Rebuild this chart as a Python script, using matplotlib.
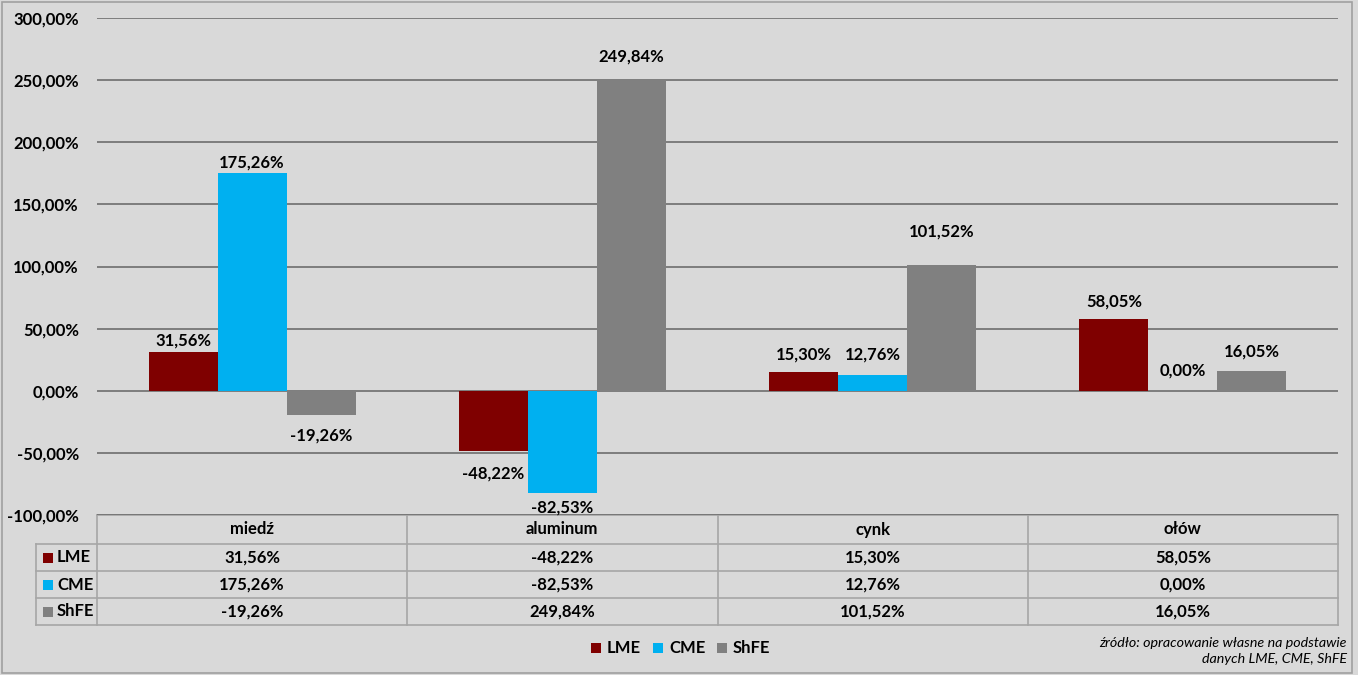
import matplotlib
matplotlib.use("Agg")
import matplotlib.pyplot as plt
from matplotlib.patches import Rectangle
import numpy as np

# ---- data ----
categories = ["miedź", "aluminum", "cynk", "ołów"]
series_names = ["LME", "CME", "ShFE"]
lme = [31.56, -48.22, 15.30, 58.05]
cme = [175.26, -82.53, 12.76, 0.00]
shfe = [-19.26, 249.84, 101.52, 16.05]
yticks = [-100, -50, 0, 50, 100, 150, 200, 250, 300]
source_text = "źródło: opracowanie własne na podstawie\ndanych LME, CME, ShFE"

# ---- style ----
colors = ["#7F0000", "#00B0F0", "#808080"]
bg = "#D9D9D9"
grid_c = "#6E6E6E"
table_c = "#A6A6A6"
FONT = "Lato"
FS = 12
# label vertical offsets in pixels (style only)
label_off = [[11, -23, 17, 17],
             [10, -14, 20, 20],
             [-21, 24, 33, 19]]

W, H = 1358, 675
DPI = 100
fig = plt.figure(figsize=(W / DPI, H / DPI), dpi=DPI, facecolor=bg)
L, R, T, B = 97, 1338, 18, 515
ax = fig.add_axes([L / W, 1 - B / H, (R - L) / W, (B - T) / H])
ax.patch.set_alpha(0)
ax.set_zorder(5)

def fmt(v):
    return f"{v:.2f}".replace(".", ",") + "%"

x = np.arange(len(categories))
bw = 69 / 310
data = [lme, cme, shfe]
for i, (vals, c) in enumerate(zip(data, colors)):
    ax.bar(x + (i - 1) * bw, vals, width=bw, color=c, zorder=3)

ax.set_xlim(-0.5, len(categories) - 0.5)
ax.set_ylim(min(yticks), max(yticks))
ax.set_yticks(yticks)
ax.set_yticklabels([fmt(v) for v in yticks], fontfamily=FONT, fontweight="bold", fontsize=FS)
ax.tick_params(axis="y", length=0, pad=13)
ax.set_xticks([])
ax.grid(axis="y", color=grid_c, linewidth=1.2, zorder=1)
for s in ax.spines.values():
    s.set_visible(False)

# data labels
px2pt = 72 / DPI
for i, vals in enumerate(data):
    for j, v in enumerate(vals):
        off = label_off[i][j]
        ax.annotate(fmt(v), (x[j] + (i - 1) * bw, v), xytext=(0, off * px2pt),
                    textcoords="offset points", ha="center", va="center",
                    fontfamily=FONT, fontweight="bold", fontsize=FS, zorder=4,
                    annotation_clip=False)

# ---- data table ----
ftrans = fig.transFigure
def fx(px):
    return px / W
def fy(py):
    return 1 - py / H

row_edges = [515, 544, 571, 598, 625]
col_edges = [L + k * (R - L) / len(categories) for k in range(len(categories) + 1)]
left_col = 36

for k, y in enumerate(row_edges):
    x0 = L if k == 0 else left_col
    fig.add_artist(plt.Line2D([fx(x0), fx(R)], [fy(y), fy(y)], transform=ftrans,
                              color=table_c, linewidth=1.2))
for k, cx in enumerate(col_edges):
    fig.add_artist(plt.Line2D([fx(cx), fx(cx)], [fy(row_edges[0]), fy(row_edges[-1])],
                              transform=ftrans, color=table_c, linewidth=1.2))
fig.add_artist(plt.Line2D([fx(left_col), fx(left_col)], [fy(row_edges[1]), fy(row_edges[-1])],
                          transform=ftrans, color=table_c, linewidth=1.2))

for j, cat in enumerate(categories):
    cx = (col_edges[j] + col_edges[j + 1]) / 2
    cy = (row_edges[0] + row_edges[1]) / 2
    fig.text(fx(cx), fy(cy), cat, ha="center", va="center",
             fontfamily=FONT, fontweight="bold", fontsize=FS)
for i, (name, vals, c) in enumerate(zip(series_names, data, colors)):
    cy = (row_edges[i + 1] + row_edges[i + 2]) / 2
    fig.add_artist(Rectangle((fx(43), fy(cy + 5)), 10 / W, 10 / H, transform=ftrans,
                             facecolor=c, edgecolor="none"))
    fig.text(fx(57), fy(cy), name, ha="left", va="center",
             fontfamily=FONT, fontweight="bold", fontsize=FS)
    for j, v in enumerate(vals):
        cx = (col_edges[j] + col_edges[j + 1]) / 2
        fig.text(fx(cx), fy(cy), fmt(v), ha="center", va="center",
                 fontfamily=FONT, fontweight="bold", fontsize=FS)

# ---- legend ----
leg_x = [591, 653, 717]
leg_y = 648
for name, c, lx in zip(series_names, colors, leg_x):
    fig.add_artist(Rectangle((fx(lx), fy(leg_y + 5)), 10 / W, 10 / H, transform=ftrans,
                             facecolor=c, edgecolor="none"))
    fig.text(fx(lx + 16), fy(leg_y), name, ha="left", va="center",
             fontfamily=FONT, fontweight="bold", fontsize=FS)

# source
fig.text(fx(1347), fy(651), source_text, ha="right", va="center", linespacing=1.4,
         fontfamily=FONT, fontstyle="italic", fontsize=10.3)

# figure border
fig.add_artist(Rectangle((fx(2), fy(673)), (W - 8) / W, 671 / H, transform=ftrans,
                         facecolor="none", edgecolor="#A0A0A0", linewidth=1.2))

fig.savefig("out.png", dpi=DPI, facecolor=bg)
